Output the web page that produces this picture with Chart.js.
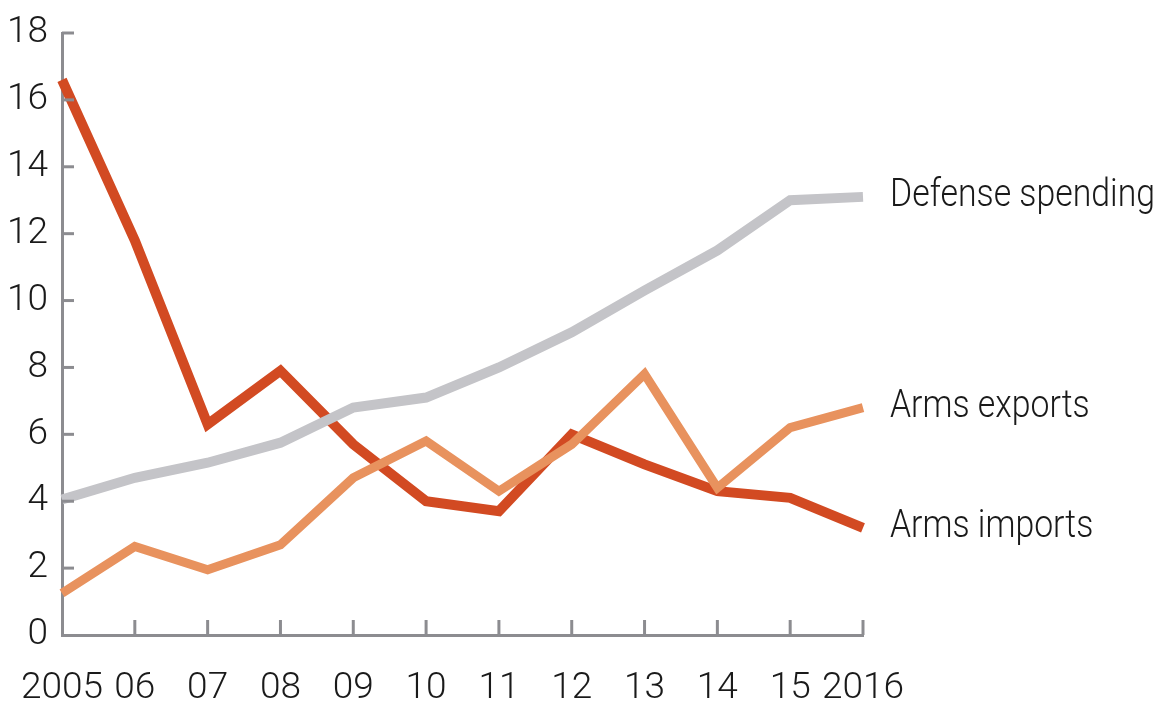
<!DOCTYPE html>
<html>
<head>
<meta charset="utf-8">
<script src="https://cdn.jsdelivr.net/npm/chart.js@4.4.1/dist/chart.umd.min.js"></script>
<style>
  html, body { margin: 0; padding: 0; background: #fff; }
  #wrap { width: 1161px; height: 706px; }
</style>
</head>
<body>
<div id="wrap"><canvas id="canvasArms"></canvas></div>
<script>
// years along the bottom
var years = ['2005', '06', '07', '08', '09', '10', '11', '12', '13', '14', '15', '2016'];
var yTicks = [0, 2, 4, 6, 8, 10, 12, 14, 16, 18];

var defenseSpending = [4.05, 4.7, 5.15, 5.75, 6.8, 7.1, 8.0, 9.05, 10.3, 11.5, 13.0, 13.1];
var armsExports = [1.25, 2.65, 1.95, 2.7, 4.7, 5.8, 4.3, 5.7, 7.8, 4.4, 6.2, 6.8];
var armsImports = [16.6, 11.8, 6.3, 7.9, 5.7, 4.0, 3.7, 6.0, 5.1, 4.3, 4.1, 3.2];

var seriesNames = ['Defense spending', 'Arms exports', 'Arms imports'];

var FONT = 'Roboto, "Liberation Sans", sans-serif';
var AXIS = '#8c8c90';

// labels at the end of each line + inward tick marks
var endLabels = {
  id: 'endLabels',
  afterDatasetsDraw: function(chart) {
    var ctx = chart.ctx;
    var xs = chart.scales.x, ys = chart.scales.y;
    ctx.save();
    ctx.strokeStyle = AXIS;
    ctx.lineWidth = 3;
    // x ticks pointing up
    for (var i = 1; i < years.length; i++) {
      var px = xs.getPixelForValue(i);
      ctx.beginPath();
      ctx.moveTo(px, ys.bottom);
      ctx.lineTo(px, ys.bottom - 15);
      ctx.stroke();
    }
    // y ticks pointing right
    for (var j = 1; j < yTicks.length; j++) {
      var py = ys.getPixelForValue(yTicks[j]);
      ctx.beginPath();
      ctx.moveTo(xs.left, py);
      ctx.lineTo(xs.left + 12, py);
      ctx.stroke();
    }
    ctx.font = '300 38px ' + FONT;
    ctx.fillStyle = '#1a1a1a';
    ctx.textBaseline = 'middle';
    ctx.textAlign = 'left';
    // squeeze a bit so the longest label fits like the original
    var sx = 265 / ctx.measureText(seriesNames[0]).width;
    chart.data.datasets.forEach(function(ds, k) {
      var meta = chart.getDatasetMeta(k);
      var pt = meta.data[meta.data.length - 1];
      ctx.save();
      ctx.translate(pt.x + 27, pt.y);
      ctx.scale(sx, 1);
      ctx.fillText(ds.label, 0, 0);
      ctx.restore();
    });
    ctx.restore();
  }
};

var ctx = document.getElementById('canvasArms');

var lineChart = new Chart(ctx, {
  type: 'line',
  data: {
    labels: years,
    datasets: [
      {
        label: seriesNames[0],
        data: defenseSpending,
        borderColor: '#c4c4c8',
        borderWidth: 10,
        pointRadius: 0,
        tension: 0
      },
      {
        label: seriesNames[1],
        data: armsExports,
        borderColor: '#e8925e',
        borderWidth: 9,
        pointRadius: 0,
        tension: 0
      },
      {
        label: seriesNames[2],
        data: armsImports,
        borderColor: '#d24a22',
        borderWidth: 10,
        pointRadius: 0,
        tension: 0
      }
    ]
  },
  plugins: [endLabels],
  options: {
    responsive: true,
    maintainAspectRatio: false,
    animation: false,
    layout: { padding: { top: 33, right: 298, bottom: 0, left: 0 } },
    plugins: {
      legend: { display: false },
      tooltip: { enabled: false }
    },
    scales: {
      x: {
        offset: false,
        afterFit: function(s) {
          s.height = 71;
          s.paddingLeft = 0;
          s.paddingRight = 0;
        },
        grid: { display: false, drawTicks: false },
        border: { color: AXIS, width: 3 },
        ticks: {
          color: '#1a1a1a',
          padding: 32,
          maxRotation: 0,
          autoSkip: false,
          font: { family: FONT, size: 37, weight: '300' }
        }
      },
      y: {
        min: 0,
        max: 18,
        afterFit: function(s) {
          s.width = 62;
          s.paddingTop = 0;
          s.paddingBottom = 0;
        },
        afterBuildTicks: function(s) {
          s.ticks = yTicks.map(function(v) { return { value: v }; });
        },
        grid: { display: false, drawTicks: false },
        border: { color: AXIS, width: 3 },
        ticks: {
          color: '#1a1a1a',
          padding: 14,
          font: { family: FONT, size: 37, weight: '300' }
        }
      }
    }
  }
});
</script>
</body>
</html>
